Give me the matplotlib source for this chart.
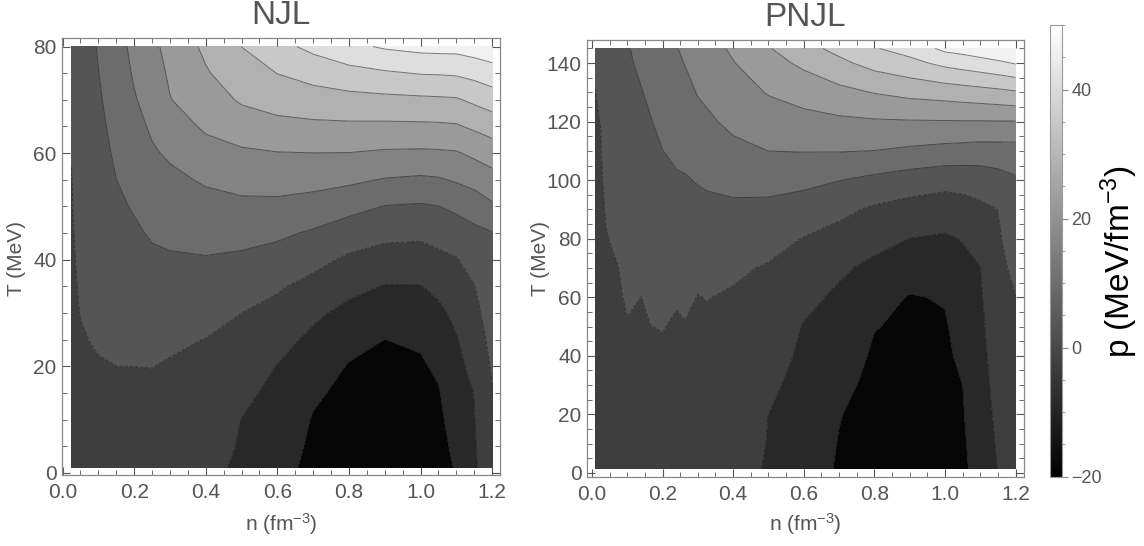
import numpy as np
import matplotlib
matplotlib.use('Agg')
import matplotlib.pyplot as plt
from matplotlib.colors import Normalize
from matplotlib.cm import ScalarMappable
from matplotlib.ticker import MultipleLocator, FormatStrFormatter

plt.rcParams['font.family'] = ['Liberation Sans', 'DejaVu Sans']
plt.rcParams['mathtext.fontset'] = 'custom'
plt.rcParams['mathtext.rm'] = 'Liberation Sans'
plt.rcParams['mathtext.it'] = 'Liberation Sans:italic'
plt.rcParams['mathtext.bf'] = 'Liberation Sans:bold'

# ---------------- data (pressure p in MeV/fm^3) ----------------
njl_n = [0.025, 0.05, 0.1, 0.15, 0.2, 0.25, 0.3, 0.4, 0.5, 0.6, 0.7, 0.8, 0.9, 1.0, 1.05, 1.1, 1.15, 1.2]
njl_T = [1, 5, 10, 15, 20, 25, 30, 35, 40, 45, 50, 55, 60, 65, 70, 75, 80]
# one list per density column, values ordered along njl_T
njl_p_cols = [
    [-3.5, -3.4, -3.26, -3.13, -3.0, -2.87, -2.74, -2.61, -2.47, -2.34, -2.21, -2.08, -1.91, -1.68, -1.45, -1.23, -1.0],
    [-4.0, -3.71, -3.35, -2.99, -2.63, -2.27, -1.93, -1.67, -1.40, -1.14, -0.88, -0.61, -0.35, -0.09, 0.18, 0.44, 0.7],
    [-4.5, -4.02, -3.43, -2.83, -2.24, -1.67, -1.11, -0.56, 0.0, 0.56, 1.11, 1.67, 2.22, 2.78, 3.33, 3.89, 4.44],
    [-5.0, -4.37, -3.58, -2.79, -2.01, -1.15, -0.30, 0.56, 1.41, 2.26, 3.11, 3.97, 4.75, 5.54, 6.33, 7.11, 7.9],
    [-5.5, -4.76, -3.84, -2.92, -1.99, -0.94, 0.11, 1.17, 2.23, 3.28, 4.41, 5.70, 6.99, 8.27, 9.56, 10.56, 11.4],
    [-6.0, -5.14, -4.07, -3.0, -1.92, -0.66, 0.61, 1.87, 3.14, 4.52, 6.13, 7.74, 9.35, 10.78, 12.09, 13.39, 14.7],
    [-6.5, -5.65, -4.58, -3.51, -2.45, -1.12, 0.39, 1.91, 3.42, 5.13, 6.95, 8.76, 10.8, 13.3, 15.8, 16.81, 17.7],
    [-7.2, -6.35, -5.29, -4.23, -3.17, -2.11, -0.25, 1.70, 3.65, 5.88, 8.17, 10.65, 13.91, 16.83, 19.14, 21.45, 23.2],
    [-8.5, -8.35, -8.08, -6.94, -5.3, -3.65, -1.99, 0.52, 3.04, 5.82, 8.76, 11.89, 15.15, 19.0, 22.69, 25.35, 28.05],
    [-12.0, -11.19, -10.18, -9.17, -8.16, -6.08, -3.79, -1.32, 1.77, 5.02, 8.68, 12.26, 15.79, 20.34, 24.37, 28.08, 32.2],
    [-15.5, -15.0, -14.38, -13.22, -11.25, -9.29, -6.92, -3.72, -0.32, 3.34, 7.67, 11.93, 15.96, 20.83, 25.35, 30.22, 35.5],
    [-18.0, -17.23, -16.27, -15.31, -14.35, -12.26, -9.53, -6.46, -2.98, 1.09, 5.78, 11.14, 15.90, 20.98, 26.07, 32.04, 38.55],
    [-19.0, -18.17, -17.14, -16.11, -15.07, -14.04, -11.2, -8.29, -4.49, -0.46, 3.83, 9.65, 15.22, 20.87, 26.53, 33.29, 40.7],
    [-18.0, -17.3, -16.41, -15.53, -14.65, -13.33, -10.77, -8.21, -4.63, -0.83, 3.33, 9.04, 15.04, 20.94, 26.92, 34.3, 41.8],
    [-16.5, -15.91, -15.17, -14.43, -13.17, -11.18, -9.19, -6.7, -3.43, 0.13, 3.92, 9.44, 15.19, 21.06, 27.14, 34.45, 42.0],
    [-13.5, -12.65, -11.6, -10.54, -9.48, -8.42, -6.7, -4.52, -2.35, 1.11, 5.2, 10.59, 15.51, 21.4, 27.4, 34.75, 42.0],
    [-8.7, -8.5, -8.24, -7.91, -6.48, -5.04, -3.61, -2.17, 0.2, 2.7, 6.67, 12.0, 17.15, 22.96, 29.12, 35.86, 43.0],
    [-5.0, -4.25, -3.31, -2.38, -1.39, -0.36, 0.66, 1.69, 2.71, 3.73, 9.16, 13.83, 18.78, 24.57, 30.81, 37.41, 44.0],
]

pnjl_n = [0.01, 0.025, 0.04, 0.075, 0.1, 0.14, 0.165, 0.2, 0.24, 0.265, 0.3, 0.325, 0.4,
          0.5, 0.6, 0.7, 0.8, 0.9, 1.0, 1.05, 1.1, 1.15, 1.2]
pnjl_T = [1.5, 10, 20, 30, 40, 50, 60, 70, 80, 90, 100, 110, 120, 130, 140, 145]
pnjl_p_cols = [
    [-4.0, -3.87, -3.72, -3.57, -3.42, -3.27, -3.12, -2.97, -2.82, -2.66, -2.51, -2.36, -2.21, -2.06, -1.56, -1.2],
    [-4.2, -4.04, -3.85, -3.67, -3.48, -3.29, -3.1, -2.92, -2.73, -2.54, -2.36, -2.17, -1.94, -1.37, -0.79, -0.5],
    [-4.4, -4.16, -3.87, -3.58, -3.29, -3.0, -2.71, -2.43, -2.14, -1.8, -1.42, -1.04, -0.66, -0.27, 0.11, 0.3],
    [-4.7, -4.37, -3.98, -3.59, -3.2, -2.81, -2.41, -2.02, -1.47, -0.91, -0.34, 0.22, 0.79, 1.35, 1.92, 2.2],
    [-5.0, -4.51, -3.93, -3.35, -2.77, -2.2, -1.6, -0.99, -0.37, 0.24, 0.85, 1.46, 2.07, 2.68, 3.29, 3.6],
    [-5.3, -4.82, -4.26, -3.7, -3.14, -2.58, -2.02, -1.19, -0.36, 0.47, 1.3, 2.14, 2.97, 3.8, 4.87, 5.45],
    [-5.5, -4.87, -4.17, -3.46, -2.76, -2.05, -1.26, -0.42, 0.41, 1.25, 2.08, 2.92, 3.75, 4.81, 5.96, 6.54],
    [-5.8, -5.11, -4.3, -3.49, -2.67, -1.84, -0.87, 0.09, 1.06, 2.02, 2.99, 3.95, 5.12, 6.3, 7.48, 8.07],
    [-6.1, -5.47, -4.73, -3.99, -3.25, -2.5, -1.59, -0.32, 0.96, 2.23, 3.5, 4.86, 6.27, 7.68, 9.09, 9.8],
    [-6.3, -5.59, -4.75, -3.92, -3.08, -2.24, -1.15, 0.05, 1.26, 2.46, 3.66, 5.21, 6.88, 8.56, 10.22, 11.0],
    [-6.6, -5.97, -5.19, -4.43, -3.67, -2.91, -2.15, -0.69, 0.95, 2.59, 4.29, 6.33, 8.37, 10.29, 11.76, 12.5],
    [-6.8, -6.09, -5.26, -4.43, -3.59, -2.76, -1.86, -0.28, 1.3, 2.88, 4.64, 6.86, 9.09, 11.01, 12.73, 13.6],
    [-7.2, -6.52, -5.71, -4.91, -4.11, -3.31, -2.51, -1.23, 0.86, 2.95, 5.54, 8.62, 11.24, 13.48, 15.73, 16.9],
    [-8.2, -8.12, -8.02, -7.05, -5.9, -4.74, -3.58, -2.43, -0.24, 2.56, 5.97, 10.02, 13.16, 16.35, 19.85, 21.6],
    [-11.5, -10.93, -10.27, -9.6, -8.93, -8.27, -6.67, -4.44, -2.22, 1.35, 5.4, 10.2, 14.12, 18.36, 23.14, 26.0],
    [-14.5, -14.24, -13.77, -12.55, -11.33, -10.11, -8.89, -7.18, -4.13, -0.59, 4.12, 10.23, 14.88, 20.38, 26.6, 29.7],
    [-17.5, -16.88, -16.15, -15.41, -14.68, -13.84, -11.53, -9.22, -6.36, -2.87, 2.55, 9.92, 15.36, 22.24, 30.06, 33.6],
    [-18.5, -17.83, -17.05, -16.26, -15.48, -14.69, -14.4, -10.87, -8.08, -4.2, 1.07, 8.97, 15.56, 23.69, 32.32, 36.3],
    [-17.5, -16.96, -16.32, -15.68, -15.04, -14.6, -13.6, -10.93, -8.71, -5.08, -0.02, 8.09, 15.65, 24.63, 35.44, 41.4],
    [-15.0, -14.71, -14.37, -14.03, -12.88, -11.64, -10.4, -9.17, -7.79, -4.32, 0.11, 7.78, 15.7, 25.22, 36.56, 42.3],
    [-12.0, -11.52, -10.95, -10.38, -9.81, -9.24, -8.68, -8.11, -5.87, -3.24, 0.69, 7.39, 15.69, 25.81, 37.69, 43.6],
    [-7.9, -7.33, -6.67, -6.0, -5.33, -4.66, -4.0, -3.33, -2.66, -1.96, 1.81, 7.45, 15.75, 26.5, 38.9, 44.9],
    [-5.0, -4.58, -4.08, -3.59, -3.09, -2.6, -2.1, -0.88, 0.51, 1.91, 3.3, 7.57, 15.74, 27.33, 40.37, 46.6],
]

contour_levels = [-20, -14, -8, -2, 4, 10, 16, 22, 28, 34, 40, 50]
p_range = (-20, 50)
cbar_ticks = [-20, 0, 20, 40]
titles = ['NJL', 'PNJL']

# style: gray level of each filled band (dark -> light)
band_grays = [0.025, 0.157, 0.245, 0.335, 0.425, 0.515, 0.605, 0.695, 0.785, 0.872, 0.945]
band_colors = [str(g) for g in band_grays]

# ---------------- figure ----------------
W, H = 1144, 546
fig = plt.figure(figsize=(W / 100, H / 100), dpi=100)
fig.patch.set_facecolor('white')


def px_axes(x0, y0, x1, y1):
    return fig.add_axes([x0 / W, 1 - y1 / H, (x1 - x0) / W, (y1 - y0) / H])


norm = Normalize(*p_range)
TXT = '#555555'


def panel(ax, n, T, cols, xlim, ylim, ymajor):
    Z = np.array(cols).T
    ax.contourf(n, T, Z, levels=contour_levels, colors=band_colors)
    ax.contour(n, T, Z, levels=contour_levels[1:-1], colors='#1a1a1a',
               linewidths=0.7, alpha=0.55)
    ax.set_xlim(*xlim)
    ax.set_ylim(*ylim)
    ax.xaxis.set_major_locator(MultipleLocator(0.2))
    ax.xaxis.set_minor_locator(MultipleLocator(0.05))
    ax.yaxis.set_major_locator(MultipleLocator(ymajor))
    ax.yaxis.set_minor_locator(MultipleLocator(5))
    ax.xaxis.set_major_formatter(FormatStrFormatter('%.1f'))
    ax.tick_params(which='both', direction='in', top=True, right=True,
                   color='#555555', labelcolor=TXT, labelsize=15)
    ax.tick_params(which='major', length=6, width=0.8)
    ax.tick_params(which='minor', length=3.5, width=0.6)
    ax.tick_params(axis='x', pad=6)
    ax.tick_params(axis='y', pad=4)
    for s in ax.spines.values():
        s.set_color('#888888')
        s.set_linewidth(0.9)


ax1 = px_axes(62, 38, 500, 475)
panel(ax1, njl_n, njl_T, njl_p_cols, (-0.0015, 1.222), (-0.4, 81.6), 20)

ax2 = px_axes(587, 40, 1024, 477)
panel(ax2, pnjl_n, pnjl_T, pnjl_p_cols, (-0.014, 1.224), (-1.4, 147.9), 20)

# titles and axis labels
fig.text(281 / W, 1 - 16 / H, titles[0], fontsize=24, color=TXT, ha='center', va='center')
fig.text(805 / W, 1 - 18 / H, titles[1], fontsize=24, color=TXT, ha='center', va='center')
for xc in (281, 805):
    fig.text(xc / W, 1 - 524 / H, r'n (fm$^{-3}$)', fontsize=15, color=TXT,
             ha='center', va='center')
for xl in (17, 540):
    fig.text(xl / W, 1 - 258 / H, 'T (MeV)', fontsize=15, color=TXT, rotation=90,
             ha='center', va='center')

# colorbar (continuous gray scale)
cax = px_axes(1049.5, 25, 1061.7, 476.5)
cb = fig.colorbar(ScalarMappable(norm=norm, cmap='gray'), cax=cax)
cb.set_ticks(cbar_ticks)
cax.yaxis.set_minor_locator(MultipleLocator(5))
cax.tick_params(which='both', direction='out', color='#888888', labelcolor=TXT, labelsize=13)
cax.tick_params(which='major', length=4, width=0.8, pad=3)
cax.tick_params(which='minor', length=2.5, width=0.6)
cb.outline.set_edgecolor('#999999')
cb.outline.set_linewidth(0.8)
fig.text(1119 / W, 1 - 262 / H, r'p (MeV/fm$^{-3}$)', fontsize=24, color='black',
         rotation=90, ha='center', va='center')

fig.savefig('out.png', dpi=100)
